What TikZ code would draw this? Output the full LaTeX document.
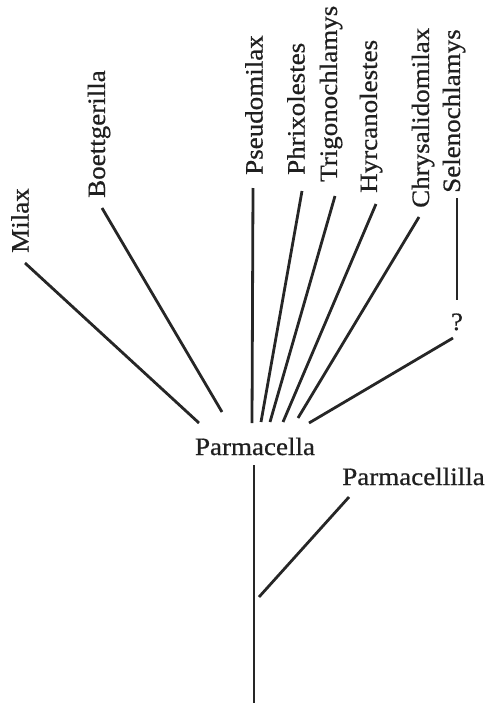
\documentclass[tikz,border=0pt]{standalone}
\usepackage{fontspec}
\setmainfont[FakeStretch=1.08,FakeBold=0.7]{Liberation Serif}
\begin{document}
\begin{tikzpicture}[x=1pt,y=-1pt,
  lbl/.style={font=\fontsize{25}{28}\selectfont, inner sep=0pt, text=black!88},
  vlbl/.style={lbl, rotate=90, anchor=west},
  branch/.style={line width=2.8pt, black!85}]
\useasboundingbox (0,0) rectangle (486,704);
% labels
\node[vlbl] (milax) at (20,253) {Milax};
\node[vlbl] (boett) at (99,198) {Boettgerilla};
\node[vlbl] (pseudo) at (254,175) {Pseudomilax};
\node[vlbl] (phrix) at (296,175) {Phrixolestes};
\node[vlbl] (trigo) at (331,182) {Trigonochlamys};
\node[vlbl] (hyrc) at (371,193) {Hyrcanolestes};
\node[vlbl] (chrys) at (423,208) {Chrysalidomilax};
\node[vlbl] (selen) at (454,193) {Selenochlamys};
\node[lbl, anchor=base] (q) at (457,330) {?};
\node[lbl, anchor=base] (parm) at (255,455) {Parmacella};
\node[lbl, anchor=base] (parmla) at (413.5,485) {Parmacellilla};
% end points
\coordinate (milaxA) at (25,263);   \coordinate (milaxB) at (199,423);
\coordinate (boettA) at (102,208);  \coordinate (boettB) at (222,412);
\coordinate (pseudoA) at (253,188); \coordinate (pseudoB) at (252,423);
\coordinate (phrixA) at (302,191);  \coordinate (phrixB) at (261,422);
\coordinate (trigoA) at (335,196);  \coordinate (trigoB) at (270,422);
\coordinate (hyrcA) at (376,204);   \coordinate (hyrcB) at (283,422);
\coordinate (chrysA) at (419,217);  \coordinate (chrysB) at (298,418);
\coordinate (selenA) at (457,198);  \coordinate (selenB) at (457,300);
\coordinate (qA) at (453,338);      \coordinate (qB) at (309,423);
\coordinate (trunkA) at (254,465);  \coordinate (trunkB) at (254,703);
\coordinate (parmlaA) at (349,497); \coordinate (parmlaB) at (259,597);
% branches
\draw[branch] (milaxA) -- (milaxB);
\draw[branch] (boettA) -- (boettB);
\draw[branch] (pseudoA) -- (pseudoB);
\draw[branch] (phrixA) -- (phrixB);
\draw[branch] (trigoA) -- (trigoB);
\draw[branch] (hyrcA) -- (hyrcB);
\draw[branch] (chrysA) -- (chrysB);
\draw[branch] (selenA) -- (selenB);
\draw[branch] (qA) -- (qB);
\draw[branch] (trunkA) -- (trunkB);
\draw[branch] (parmlaA) -- (parmlaB);
\end{tikzpicture}
\end{document}
